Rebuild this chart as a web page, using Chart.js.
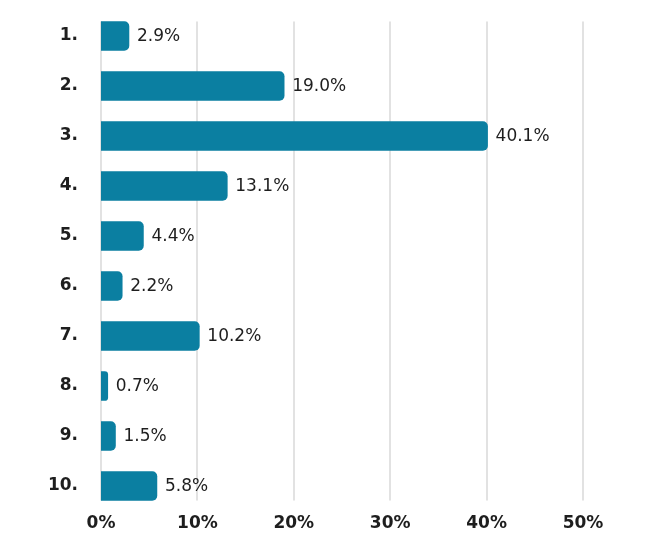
<!DOCTYPE html>
<html>
<head>
<meta charset="utf-8">
<script src="https://cdn.jsdelivr.net/npm/chart.js@4"></script>
<style>
html,body{margin:0;padding:0;background:#fff;}
#wrap{width:660px;height:550px;position:relative;}
</style>
</head>
<body>
<div id="wrap"><canvas id="c"></canvas></div>
<script>
const categories = ["1.", "2.", "3.", "4.", "5.", "6.", "7.", "8.", "9.", "10."];
const values = [2.9, 19.0, 40.1, 13.1, 4.4, 2.2, 10.2, 0.7, 1.5, 5.8];
const xTicks = [0, 10, 20, 30, 40, 50];

const FONT = "'DejaVu Sans', sans-serif";
const BAR_COLOR = '#0b7fa1';
const GRID_COLOR = '#e2e2e2';
const TEXT_COLOR = '#1e1e1e';

const gridPlugin = {
  id: 'grid',
  beforeDatasetsDraw(chart) {
    const meta = chart.getDatasetMeta(0);
    const first = meta.data[0], last = meta.data[meta.data.length - 1];
    const top = first.y - first.height / 2;
    const bottom = last.y + last.height / 2;
    const xs = chart.scales.x;
    const ctx = chart.ctx;
    ctx.save();
    ctx.strokeStyle = GRID_COLOR;
    ctx.lineWidth = 2;
    xTicks.forEach(t => {
      const px = Math.round(xs.getPixelForValue(t));
      ctx.beginPath();
      ctx.moveTo(px, top);
      ctx.lineTo(px, bottom);
      ctx.stroke();
    });
    ctx.restore();
  }
};

const labelPlugin = {
  id: 'vlabels',
  afterDatasetsDraw(chart) {
    const meta = chart.getDatasetMeta(0);
    const ctx = chart.ctx;
    ctx.save();
    ctx.font = "17px " + FONT;
    ctx.fillStyle = TEXT_COLOR;
    ctx.textAlign = 'left';
    ctx.textBaseline = 'middle';
    meta.data.forEach((bar, i) => {
      ctx.fillText(values[i].toFixed(1) + '%', bar.x + 8, bar.y + 1);
    });
    ctx.restore();
  }
};

new Chart(document.getElementById('c'), {
  type: 'bar',
  data: {
    labels: categories,
    datasets: [{
      data: values,
      backgroundColor: BAR_COLOR,
      borderWidth: 0,
      borderRadius: 5,
      borderSkipped: 'start',
      barThickness: 29
    }]
  },
  options: {
    indexAxis: 'y',
    responsive: true,
    maintainAspectRatio: false,
    animation: false,
    layout: { padding: { top: 11, right: 77, left: 0, bottom: 0 } },
    plugins: { legend: { display: false }, tooltip: { enabled: false } },
    scales: {
      x: {
        min: 0, max: 50,
        afterFit(s) { s.height = 39; },
        afterBuildTicks(s) { s.ticks = xTicks.map(v => ({ value: v })); },
        grid: { display: false, drawTicks: false },
        border: { display: false },
        ticks: {
          padding: 2,
          color: TEXT_COLOR,
          font: { family: FONT, size: 17, weight: 'bold' },
          callback: v => v + '%'
        }
      },
      y: {
        afterFit(s) { s.width = 101; },
        grid: { display: false, drawTicks: true, tickLength: 23 },
        border: { display: false },
        ticks: {
          padding: 0,
          color: TEXT_COLOR,
          font: { family: FONT, size: 17, weight: 'bold' }
        }
      }
    }
  },
  plugins: [gridPlugin, labelPlugin]
});
</script>
</body>
</html>
